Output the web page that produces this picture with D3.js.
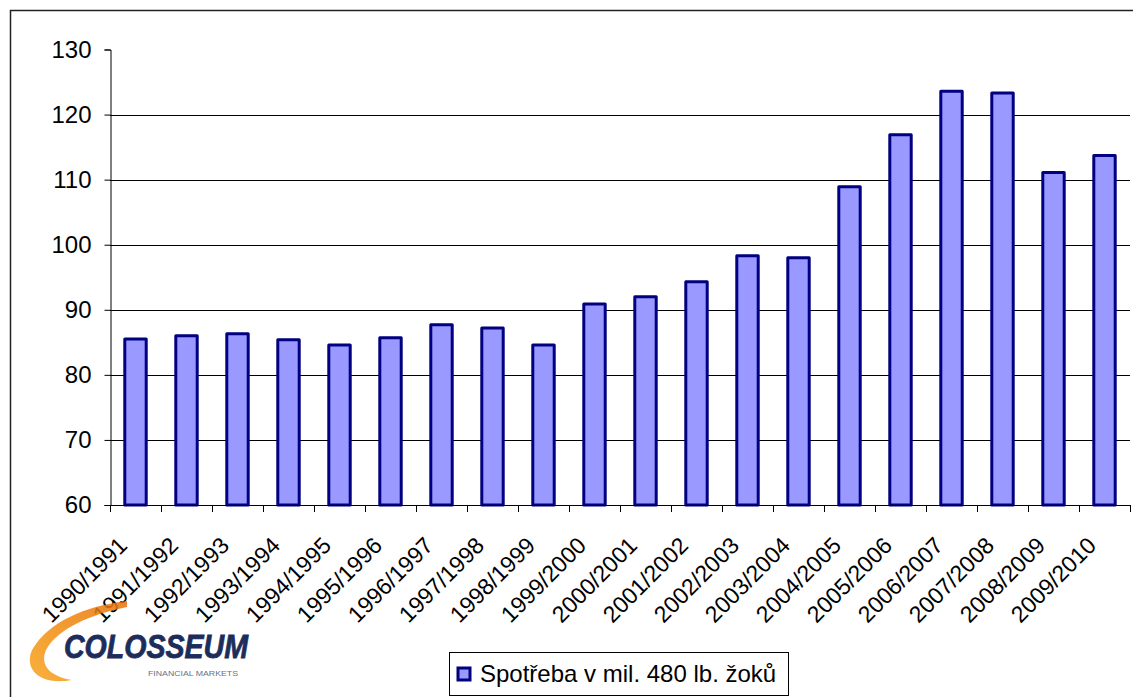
<!DOCTYPE html>
<html>
<head>
<meta charset="utf-8">
<script src="https://cdn.jsdelivr.net/npm/d3@7"></script>
<style>
  body { margin: 0; background: #fff; }
  svg { display: block; font-family: "Liberation Sans", Arial, sans-serif; }
</style>
</head>
<body>
<div id="app"></div>
<script>
// seasons and consumption (mil. 480 lb. bales)
const seasons = ["1990/1991", "1991/1992", "1992/1993", "1993/1994", "1994/1995",
  "1995/1996", "1996/1997", "1997/1998", "1998/1999", "1999/2000", "2000/2001",
  "2001/2002", "2002/2003", "2003/2004", "2004/2005", "2005/2006", "2006/2007",
  "2007/2008", "2008/2009", "2009/2010"];
const consumption = [85.5, 86.0, 86.3, 85.4, 84.6, 85.7, 87.7, 87.2, 84.6, 90.9,
  92.0, 94.3, 98.3, 98.0, 108.9, 116.9, 123.6, 123.3, 111.1, 113.7];
const yTicks = [60, 70, 80, 90, 100, 110, 120, 130];
const seriesName = "Spotřeba v mil. 480 lb. žoků";

const W = 1133, H = 697;
const plot = {left: 110, right: 1130, top: 49.5, bottom: 505};

const svg = d3.select("#app").append("svg")
  .attr("width", W)
  .attr("height", H);

// outer frame (right and bottom run off the picture)
svg.append("rect")
  .attr("x", 10.5).attr("y", 10.5)
  .attr("width", W + 20).attr("height", H + 20)
  .attr("fill", "none")
  .attr("stroke", "#222")
  .attr("stroke-width", 1.5);

const x = d3.scaleBand()
  .domain(seasons)
  .range([plot.left, plot.right])
  .paddingInner(0.58)
  .paddingOuter(0.29);

const y = d3.scaleLinear()
  .domain([60, 130])
  .range([plot.bottom, plot.top]);

// gridlines
svg.append("g")
  .selectAll("line")
  .data(yTicks.filter(d => d > 60 && d < 130))
  .enter().append("line")
  .attr("x1", plot.left).attr("x2", plot.right)
  .attr("y1", d => Math.round(y(d)) + 0.5)
  .attr("y2", d => Math.round(y(d)) + 0.5)
  .attr("stroke", "#000")
  .attr("stroke-width", 1);

// bars
svg.append("g")
  .selectAll("rect")
  .data(consumption)
  .enter().append("rect")
  .attr("x", (d, i) => x(seasons[i]))
  .attr("y", d => y(d))
  .attr("width", x.bandwidth())
  .attr("height", d => plot.bottom - y(d))
  .attr("fill", "#9999ff")
  .attr("stroke", "#000080")
  .attr("stroke-width", 3)
  .attr("stroke-linejoin", "round");

// y axis
const yAxis = svg.append("g")
  .attr("transform", "translate(" + (plot.left + 0.5) + ",0)")
  .call(d3.axisLeft(y).tickValues(yTicks).tickSize(6).tickPadding(13));
yAxis.select(".domain").attr("stroke", "#000");
yAxis.selectAll(".tick line").attr("stroke", "#000");
yAxis.selectAll(".tick text")
  .attr("font-size", 24)
  .attr("font-family", "Liberation Sans, Arial, sans-serif")
  .attr("fill", "#000");

// x axis line and ticks at category boundaries
const step = x.step();
const bounds = d3.range(seasons.length + 1).map(i => plot.left + i * step);
svg.append("line")
  .attr("x1", plot.left).attr("x2", plot.right)
  .attr("y1", plot.bottom + 0.5).attr("y2", plot.bottom + 0.5)
  .attr("stroke", "#000");
svg.append("g")
  .selectAll("line")
  .data(bounds)
  .enter().append("line")
  .attr("x1", d => Math.round(d) + 0.5).attr("x2", d => Math.round(d) + 0.5)
  .attr("y1", plot.bottom).attr("y2", plot.bottom + 7)
  .attr("stroke", "#000");

// rotated category labels
svg.append("g")
  .selectAll("text")
  .data(seasons)
  .enter().append("text")
  .attr("transform", d => "translate(" + (x(d) + x.bandwidth() / 2 - 7) + "," + 547 + ") rotate(-45)")
  .attr("text-anchor", "end")
  .attr("font-size", 23)
  .attr("fill", "#000")
  .text(d => d);

// legend
const legend = svg.append("g");
legend.append("rect")
  .attr("x", 449.5).attr("y", 652.5)
  .attr("width", 339).attr("height", 43)
  .attr("fill", "#fff")
  .attr("stroke", "#000")
  .attr("stroke-width", 1);
legend.append("rect")
  .attr("x", 458).attr("y", 668)
  .attr("width", 12).attr("height", 12)
  .attr("fill", "#9999ff")
  .attr("stroke", "#000080")
  .attr("stroke-width", 3);
legend.append("text")
  .attr("x", 480).attr("y", 682)
  .attr("font-size", 24)
  .attr("fill", "#000")
  .text(seriesName);

// logo
const logo = svg.append("g");
const grad = svg.append("defs").append("linearGradient")
  .attr("id", "swoosh")
  .attr("x1", "0").attr("y1", "1").attr("x2", "1").attr("y2", "0");
grad.append("stop").attr("offset", "0").attr("stop-color", "#f7a21b");
grad.append("stop").attr("offset", "0.5").attr("stop-color", "#f08a0c");
grad.append("stop").attr("offset", "1").attr("stop-color", "#e8700a");
logo.append("path")
  .attr("d", "M127,601 C85,606 48,622 32,650 C24,668 38,686 72,680 C48,676 40,664 46,650 C58,628 92,614 127,607 Z")
  .attr("fill", "url(#swoosh)")
  .attr("opacity", 0.85);
logo.append("text")
  .attr("x", 64).attr("y", 658)
  .attr("font-size", 34)
  .attr("font-weight", "bold")
  .attr("font-style", "italic")
  .attr("textLength", 184)
  .attr("lengthAdjust", "spacingAndGlyphs")
  .attr("fill", "#1c2d5c")
  .attr("stroke", "#1c2d5c")
  .attr("stroke-width", 0.8)
  .text("COLOSSEUM");
logo.append("text")
  .attr("x", 148).attr("y", 676)
  .attr("font-size", 7)
  .attr("textLength", 90)
  .attr("lengthAdjust", "spacingAndGlyphs")
  .attr("fill", "#6a7080")
  .text("FINANCIAL MARKETS");
</script>
</body>
</html>
